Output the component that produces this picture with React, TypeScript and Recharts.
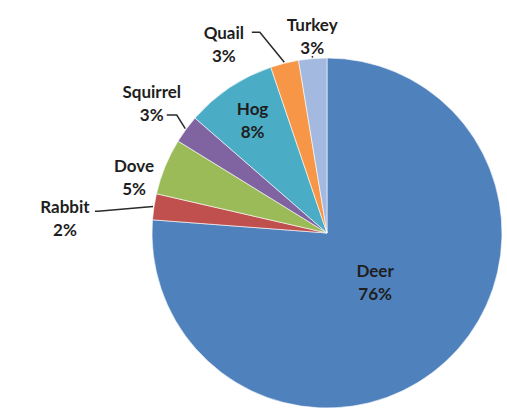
import { PieChart, Pie, Cell } from "recharts";

const animals = ["Deer", "Rabbit", "Dove", "Squirrel", "Hog", "Quail", "Turkey"];
const shares = [76.2, 2.4, 5.2, 2.6, 8.4, 2.6, 2.6];
const colors = ["#4F81BD", "#C0504D", "#9BBB59", "#8064A2", "#4BACC6", "#F79646", "#A3B9DF"];

const data = animals.map((name, i) => ({ name, value: shares[i] }));

const RAD = Math.PI / 180;

// where each label sits, relative to its slice (radius factor, angle shift) and its leader line
type Layout = { r: number; da: number; lead?: { dx: number; dy: number; len: number } };
const layout: Record<string, Layout> = {
  Deer: { r: 0.39, da: 2 },
  Rabbit: { r: 1.5, da: 5.2, lead: { dx: 30, dy: -6, len: 3 } },
  Dove: { r: 1.15, da: 5.8 },
  Squirrel: { r: 1.25, da: -0.4, lead: { dx: 15, dy: 13, len: 10 } },
  Hog: { r: 0.78, da: -0.8 },
  Quail: { r: 1.234, da: 14.5, lead: { dx: 28, dy: -11, len: 8 } },
  Turkey: { r: 1.135, da: -0.4, lead: { dx: 0, dy: 21, len: 0 } },
};

const polar = (cx: number, cy: number, r: number, a: number) => ({
  x: cx + r * Math.cos(-a * RAD),
  y: cy + r * Math.sin(-a * RAD),
});

function renderLabel(props: any) {
  const { cx, cy, midAngle, outerRadius, percent, name } = props;
  const l = layout[name];
  const p = polar(cx, cy, outerRadius * l.r, midAngle + l.da);
  let line = null;
  if (l.lead) {
    const edge = polar(cx, cy, outerRadius + 1, midAngle);
    const sx = p.x + l.lead.dx;
    const sy = p.y + l.lead.dy;
    const pts = `${sx},${sy} ${sx + l.lead.len},${sy} ${edge.x},${edge.y}`;
    line = <polyline points={pts} fill="none" stroke="#2a2a2a" strokeWidth={1.5} />;
  }
  return (
    <g>
      {line}
      <text
        x={p.x}
        y={p.y}
        textAnchor="middle"
        fill="#1e1e1e"
        fontFamily="Lato, 'Open Sans', sans-serif"
        fontWeight={700}
        fontSize={17}
      >
        <tspan x={p.x} dy={-4}>{name}</tspan>
        <tspan x={p.x} dy={23}>{`${Math.round(percent * 100)}%`}</tspan>
      </text>
    </g>
  );
}

export default function App() {
  return (
    <div style={{ position: "absolute", left: 0, top: 0, background: "#fff" }}>
      <PieChart width={507} height={413} margin={{ top: 0, right: 0, bottom: 0, left: 0 }}>
        <Pie
          data={data}
          dataKey="value"
          nameKey="name"
          cx={327}
          cy={233}
          outerRadius={175}
          startAngle={90}
          endAngle={-270}
          stroke="#fff"
          strokeWidth={0.6}
          label={renderLabel}
          labelLine={false}
          isAnimationActive={false}
        >
          {data.map((d, i) => (
            <Cell key={d.name} fill={colors[i]} />
          ))}
        </Pie>
      </PieChart>
    </div>
  );
}
